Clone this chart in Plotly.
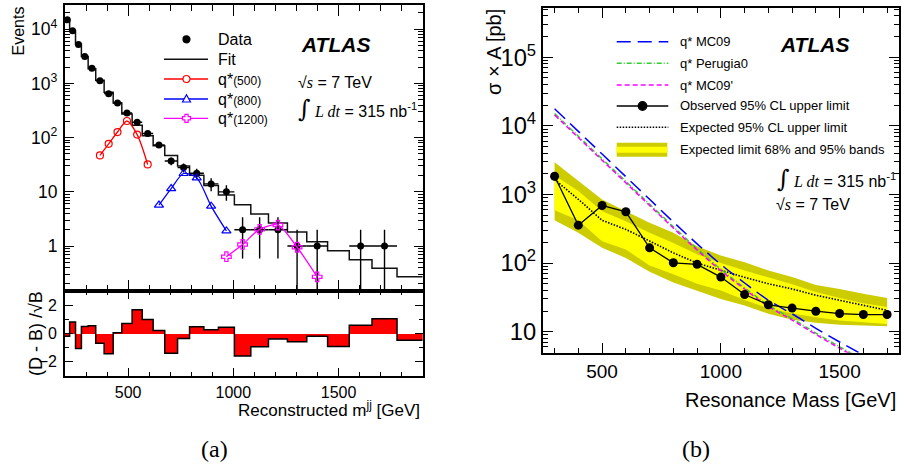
import math
import plotly.graph_objects as go

W, H = 901, 468
def X(px): return px / W
def Y(py): return 1 - py / H

# ---------------- left panel data ----------------
bin_edges = [200, 222, 250, 278, 310, 346, 386, 429, 470, 519, 567, 619, 674, 735, 792,
             860, 929, 1005, 1083, 1167, 1257, 1349, 1448, 1551, 1659, 1778, 1900]
data_counts = [14960, 9380, 5250, 3160, 1900, 1125, 649, 436, 285, 192, 119, 73, 37, 28,
               22, 14, 10, 2, 2, 2, 1, 1, 0, 1, 1, 0]
fit_values = [14985, 9300, 5327, 3132, 1876, 1148, 685, 435, 273, 169, 108, 71, 47, 30,
              20.3, 13.1, 8.7, 5.8, 3.9, 2.65, 1.81, 1.2, 0.82, 0.56, 0.39, 0.27]
residuals = [-0.2, 0.82, -1.06, 0.5, 0.54, -0.68, -1.43, 0.05, 0.7, 1.67, 0.99, 0.21, -1.39,
             -0.35, 0.47, 0.26, 0.45, -1.58, -0.94, -0.38, -0.59, -0.19, -0.92, 0.59, 1.04, -0.47]

sig500_mass = [366, 407.5, 449.5, 494.5, 543, 593]
sig500_val = [47, 77, 127, 203, 114, 32]
sig800_mass = [646.5, 704.5, 763.5, 826, 894.5, 967]
sig800_val = [5.7, 11.5, 21.8, 18.1, 5.45, 1.9]
sig1200_mass = [967, 1044, 1125, 1212, 1303, 1398.5]
sig1200_val = [0.635, 1.07, 2.03, 2.44, 0.95, 0.27]

# ---------------- right panel data ----------------
limit_mass = [300, 400, 500, 600, 700, 800, 900, 1000, 1100, 1200, 1300, 1400, 1500, 1600, 1700]
observed = [1848, 357, 692, 560, 167, 101, 96, 62.5, 34.8, 24.7, 22.1, 19.9, 18.4, 17.8, 17.8]
expected = [1650, 850, 420, 310, 210, 141, 100, 78, 62, 50, 42, 34, 28.5, 24, 20.5]
band95_hi = [2960, 1560, 845, 570, 386, 276, 176, 129, 103, 78, 62.5, 48, 42, 35.6, 31]
band68_hi = [1890, 1120, 571, 409, 276, 196, 135, 100, 78, 62, 49, 38, 31, 26, 23]
band68_lo = [589, 422, 209, 158, 92, 69, 50, 40, 29, 22, 18.5, 16.3, 14.6, 13.7, 13]
band95_lo = [422, 276, 167, 119, 75, 52, 40, 30, 24, 18.3, 15, 13.5, 12.6, 12.2, 12]

theory_mass = [300, 400, 500, 600, 700, 800, 900, 1000, 1100, 1200, 1300, 1400, 1500, 1600]
qstar_mc09 = [17783, 8318, 3890, 1820, 851, 398, 191, 95.5, 51.3, 28.8, 18.2, 11.2, 7.08, 4.57]
qstar_perugia0 = [15136, 7079, 3311, 1549, 724, 339, 162, 81.3, 43.7, 24.5, 15.5, 9.55, 6.03, 3.89]
qstar_mc09p = [14454, 6761, 3162, 1479, 692, 324, 155, 77.6, 41.7, 23.4, 14.8, 9.12, 5.75, 3.72]

RED, BLUE, MAG, GREEN = '#ff0000', '#0000ff', '#ff00ff', '#33cc33'
OLIVE, YELLOW = '#cccc00', '#ffff00'
FONT = 'Liberation Sans'

fig = go.Figure()

# ---------------- left top: spectrum ----------------
centers = [(a + b) / 2 for a, b in zip(bin_edges[:-1], bin_edges[1:])]
halfw = [(b - a) / 2 for a, b in zip(bin_edges[:-1], bin_edges[1:])]

fig.add_trace(go.Scatter(x=bin_edges, y=fit_values + [fit_values[-1]], mode='lines',
                         line=dict(color='#111111', width=1.5, shape='hv'),
                         xaxis='x', yaxis='y'))
dx = [c for c, n in zip(centers, data_counts) if n > 0]
dy = [n for n in data_counts if n > 0]
dxe = [h for h, n in zip(halfw, data_counts) if n > 0]
dye = [math.sqrt(n) for n in dy]
fig.add_trace(go.Scatter(x=dx, y=dy, mode='markers', marker=dict(color='black', size=7),
                         error_y=dict(type='data', array=dye, color='black', thickness=1.4, width=0),
                         error_x=dict(type='data', array=dxe, color='black', thickness=1.4, width=0),
                         xaxis='x', yaxis='y'))
for mx, my, col, sym, sz in [(sig500_mass, sig500_val, RED, 'circle-open', 7),
                             (sig800_mass, sig800_val, BLUE, 'triangle-up-open', 8),
                             (sig1200_mass, sig1200_val, MAG, 'cross-open', 8)]:
    fig.add_trace(go.Scatter(x=mx, y=my, mode='lines+markers',
                             line=dict(color=col, width=1.3, shape='spline', smoothing=0.8),
                             marker=dict(symbol=sym, size=sz, color=col, line=dict(width=1.2, color=col)),
                             xaxis='x', yaxis='y'))

# ---------------- left bottom: residuals ----------------
fig.add_trace(go.Bar(x=centers, y=residuals, width=[2 * h for h in halfw],
                     marker=dict(color=RED, line=dict(width=0)), xaxis='x2', yaxis='y2'))
fig.add_trace(go.Scatter(x=bin_edges, y=residuals + [residuals[-1]], mode='lines',
                         line=dict(color='black', width=1.5, shape='hv'), xaxis='x2', yaxis='y2'))

# ---------------- right: limits ----------------
fig.add_trace(go.Scatter(x=limit_mass + limit_mass[::-1], y=band95_hi + band95_lo[::-1],
                         fill='toself', fillcolor=OLIVE, line=dict(width=0), mode='lines',
                         xaxis='x3', yaxis='y3'))
fig.add_trace(go.Scatter(x=limit_mass + limit_mass[::-1], y=band68_hi + band68_lo[::-1],
                         fill='toself', fillcolor=YELLOW, line=dict(width=0), mode='lines',
                         xaxis='x3', yaxis='y3'))
fig.add_trace(go.Scatter(x=limit_mass, y=expected, mode='lines',
                         line=dict(color='black', width=1.6, dash='1.5px,1.5px'),
                         xaxis='x3', yaxis='y3'))
for ty, col, dash in [(qstar_mc09, BLUE, '14px,7px'),
                      (qstar_perugia0, GREEN, '5px,2px,1px,2px'),
                      (qstar_mc09p, MAG, '5px,3px')]:
    fig.add_trace(go.Scatter(x=theory_mass, y=ty, mode='lines',
                             line=dict(color=col, width=1.5, dash=dash, shape='spline'),
                             xaxis='x3', yaxis='y3'))
fig.add_trace(go.Scatter(x=limit_mass, y=observed, mode='lines+markers',
                         line=dict(color='black', width=1.3), marker=dict(color='black', size=9),
                         xaxis='x3', yaxis='y3'))

# ---------------- axes ----------------
def axis(domain, rng, anchor, size, ticklen, minor_len, **kw):
    d = dict(domain=domain, range=rng, anchor=anchor, showline=True, linecolor='black',
             linewidth=1.6, mirror='allticks', ticks='inside', ticklen=ticklen, tickwidth=1,
             tickcolor='black', showgrid=False, zeroline=False,
             tickfont=dict(family=FONT, size=size, color='black'),
             minor=dict(ticks='inside', ticklen=minor_len, tickcolor='black', tickwidth=1, showgrid=False))
    for k, v in kw.items():
        if k == 'minor_dtick':
            d['minor']['dtick'] = v
        else:
            d[k] = v
    return d

lx = [X(65), X(422.7)]
fig.update_layout(
    width=W, height=H, margin=dict(l=0, r=0, t=0, b=0), showlegend=False,
    paper_bgcolor='white', plot_bgcolor='white', font=dict(family=FONT, color='black'),
    xaxis=axis(lx, [200, 1900], 'y', 14, 11, 6, dtick=500, tick0=0, minor_dtick=100, showticklabels=False),
    yaxis=axis([Y(291), Y(5)], [-0.830, 4.448], 'x', 14, 9, 5, type='log', dtick=1,
               exponentformat='power', ticklabelstandoff=3),
    xaxis2=axis(lx, [200, 1900], 'y2', 16, 8, 4, dtick=500, tick0=0, minor_dtick=100,
                ticklabelstandoff=1),
    yaxis2=axis([Y(376), Y(291)], [-3, 3], 'x2', 16, 8, 4, tickvals=[-2, 0, 2], minor_dtick=1,
                ticklabelstandoff=3),
    xaxis3=axis([X(542.7), X(899)], [250, 1750], 'y3', 19, 10, 5, dtick=500, tick0=0,
                minor_dtick=100, ticklabelstandoff=1),
    yaxis3=axis([Y(352.7), Y(8.3)], [0.694, 5.714], 'x3', 19, 10, 5, type='log', dtick=1,
                exponentformat='power', ticklabelstandoff=1),
    bargap=0,
)

# ---------------- texts ----------------
def text(px, py, s, size, xanchor='left', yanchor='middle', family=FONT, angle=0):
    fig.add_annotation(x=X(px), y=Y(py), xref='paper', yref='paper', text=s, showarrow=False,
                       xanchor=xanchor, yanchor=yanchor, textangle=angle,
                       font=dict(size=size, family=family, color='black'))

serif_i = '<span style="font-family:Liberation Serif;font-style:italic">%s</span>'
integ = '<span style="font-family:DejaVu Serif;font-size:24px">∫</span>'

text(18, 5, 'Events', 16, xanchor='center', yanchor='top', angle=-90)
text(36, 334, '(D - B) /√B', 18, xanchor='center', angle=-90)
text(422, 409, 'Reconstructed m<sup>jj</sup> [GeV]', 17, xanchor='right')
text(494, 7, 'σ × A [pb]', 20, xanchor='center', yanchor='top', angle=-90)
text(898, 400, 'Resonance Mass [GeV]', 20, xanchor='right')

text(299, 45, '<b><i>ATLAS</i></b>', 21)
text(778, 45, '<b><i>ATLAS</i></b>', 21)
text(296, 82, '√' + serif_i % 's' + ' = 7 TeV', 16)
text(296, 109, integ + ' ' + serif_i % 'L dt' + ' = 315 nb<sup>-1</sup>', 16)
text(775, 179, integ + ' ' + serif_i % 'L dt' + ' = 315 nb<sup>-1</sup>', 16)
text(774, 204, '√' + serif_i % 's' + ' = 7 TeV', 16)

text(214, 449, '(a)', 24, xanchor='center', family='Liberation Serif')
text(696, 449, '(b)', 24, xanchor='center', family='Liberation Serif')

# ---------------- legend (left) ----------------
def hline(x0, x1, y, col, width, dash='solid'):
    fig.add_shape(type='line', xref='paper', yref='paper', x0=X(x0), x1=X(x1), y0=Y(y), y1=Y(y),
                  line=dict(color=col, width=width, dash=dash))

def circle(cx, cy, r, col, filled):
    fig.add_shape(type='circle', xref='paper', yref='paper', x0=X(cx - r), x1=X(cx + r),
                  y0=Y(cy + r), y1=Y(cy - r), fillcolor=col if filled else 'white',
                  line=dict(color=col, width=1.2))

def poly(pts, col):
    path = 'M' + ' L'.join('%.5f,%.5f' % (X(a), Y(b)) for a, b in pts) + ' Z'
    fig.add_shape(type='path', xref='paper', yref='paper', path=path, fillcolor='white',
                  line=dict(color=col, width=1.2))

lgx0, lgx1, lgc, lgt = 164, 208, 186.5, 216
rows = [39.3, 59.3, 79, 99, 118.3]
circle(lgc, rows[0], 3.5, 'black', True)
text(lgt, rows[0], 'Data', 16)
hline(lgx0, lgx1, rows[1], '#111111', 1.6)
text(lgt, rows[1], 'Fit', 16)
hline(lgx0, lgx1, rows[2], RED, 1.3)
circle(lgc, rows[2], 3.5, RED, False)
text(lgt, rows[2], 'q*<span style="font-size:12px">(500)</span>', 16)
hline(lgx0, lgx1, rows[3], BLUE, 1.3)
poly([(lgc, rows[3] - 4.2), (lgc + 4, rows[3] + 3), (lgc - 4, rows[3] + 3)], BLUE)
text(lgt, rows[3], 'q*<span style="font-size:12px">(800)</span>', 16)
hline(lgx0, lgx1, rows[4], MAG, 1.3)
a, b, c, d = lgc, rows[4], 4, 1.6
poly([(a - d, b - c), (a + d, b - c), (a + d, b - d), (a + c, b - d), (a + c, b + d), (a + d, b + d),
      (a + d, b + c), (a - d, b + c), (a - d, b + d), (a - c, b + d), (a - c, b - d), (a - d, b - d)], MAG)
text(lgt, rows[4], 'q*<span style="font-size:12px">(1200)</span>', 16)

# ---------------- legend (right) ----------------
rx0, rx1, rt = 616.7, 668.3, 678
rrows = [41.7, 63.3, 85, 106, 127.3, 149.3]
hline(rx0, rx1, rrows[0], BLUE, 1.5, '14px,7px')
text(rt, rrows[0], 'q* MC09', 13)
hline(rx0, rx1, rrows[1], GREEN, 1.5, '5px,2px,1px,2px')
text(rt, rrows[1], 'q* Perugia0', 13)
hline(rx0, rx1, rrows[2], MAG, 1.5, '5px,3px')
text(rt, rrows[2], "q* MC09'", 13)
hline(rx0, rx1, rrows[3], 'black', 1.3)
circle((rx0 + rx1) / 2, rrows[3], 4.3, 'black', True)
text(rt, rrows[3], 'Observed 95% CL upper limit', 13)
hline(rx0, rx1, rrows[4], 'black', 1.6, '1.5px,1.5px')
text(rt, rrows[4], 'Expected 95% CL upper limit', 13)
fig.add_shape(type='rect', xref='paper', yref='paper', x0=X(rx0), x1=X(rx1 - 1),
              y0=Y(156.7), y1=Y(142.7), fillcolor=OLIVE, line=dict(width=0))
fig.add_shape(type='rect', xref='paper', yref='paper', x0=X(rx0), x1=X(rx1 - 1),
              y0=Y(152.7), y1=Y(146.7), fillcolor=YELLOW, line=dict(width=0))
text(rt, rrows[5], 'Expected limit 68% and 95% bands', 13)

fig.write_html('out.html', config={'displayModeBar': False},
               post_script="document.body.style.margin='0';document.body.style.overflow='hidden';")
